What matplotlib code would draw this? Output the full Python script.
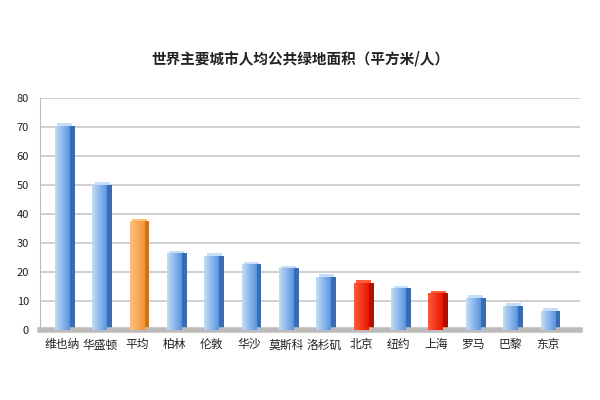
import numpy as np
import matplotlib
matplotlib.use('Agg')
import matplotlib.pyplot as plt
from matplotlib.colors import LinearSegmentedColormap

plt.rcParams['font.family'] = ['Noto Sans CJK SC', 'DejaVu Sans']

cities = ['维也纳', '华盛顿', '平均', '柏林', '伦敦', '华沙', '莫斯科',
          '洛杉矶', '北京', '纽约', '上海', '罗马', '巴黎', '东京']
values = [70.5, 50, 37.5, 26.4, 25.6, 22.7, 21.3, 18.3, 16.3, 14.4, 12.6, 11.2, 8.3, 6.6]
kinds = ['city', 'city', 'avg', 'city', 'city', 'city', 'city',
         'city', 'cn', 'city', 'cn', 'city', 'city', 'city']

# front gradient (light, dark) and side colour for each kind
palette = {
    'city': ('#c4ddf8', '#5a95e0', '#3a6cb2'),
    'avg': ('#fbc07e', '#f39533', '#c97420'),
    'cn': ('#ff5a3a', '#e81800', '#b01000'),
}

fig = plt.figure(figsize=(6, 4), dpi=100)
ax = fig.add_axes([0.067, 0.175, 0.9, 0.58])

x = np.arange(len(cities))
w = 0.4
side = 0.13

ax.yaxis.grid(True, color='#c8c8c8', linewidth=1.2)
ax.set_axisbelow(True)

for xi, v, k in zip(x, values, kinds):
    light, dark, sidec = palette[k]
    # side face
    ax.bar(xi + w / 2 + side / 2, v, width=side, color=sidec, zorder=2)
    # front face with horizontal gradient
    front = ax.bar(xi, v, width=w, color='none', zorder=3)[0]
    cmap = LinearSegmentedColormap.from_list('g', [light, dark])
    grad = np.linspace(0, 1, 64).reshape(1, -1)
    im = ax.imshow(grad, cmap=cmap, aspect='auto', zorder=3,
                   extent=[xi - w / 2, xi + w / 2, 0, v])
    im.set_clip_path(front)
    # top cap
    ax.bar(xi + side / 2, 0.9, bottom=v, width=w, color=light, zorder=3)

ax.set_xlim(-0.59, len(cities) - 1 + 0.86)
ax.set_ylim(0, 80)
ax.set_yticks(range(0, 81, 10))

ax.set_xticks(x)
ax.set_xticklabels(cities, fontsize=8.5, color='#222222')
ax.tick_params(axis='x', length=0, pad=6)
ax.tick_params(axis='y', length=0, labelsize=8, colors='#222222', pad=8)

for s in ['top', 'right']:
    ax.spines[s].set_visible(False)
ax.spines['left'].set_color('#bbbbbb')
ax.spines['bottom'].set_color('#bbbbbb')
ax.spines['bottom'].set_linewidth(4)

fig.text(0.5, 0.855, '世界主要城市人均公共绿地面积（平方米/人）',
         ha='center', va='center', fontsize=10.5, fontweight='bold',
         color='#222222')

fig.savefig('out.png', dpi=100, facecolor='white')
